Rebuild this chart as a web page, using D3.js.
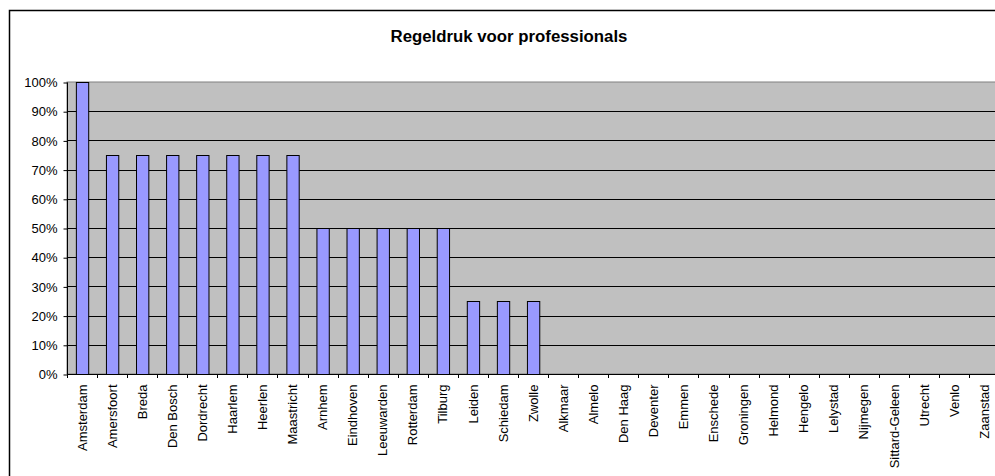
<!DOCTYPE html>
<html>
<head>
<meta charset="utf-8">
<script src="https://cdn.jsdelivr.net/npm/d3@7"></script>
<style>
  html, body { margin: 0; padding: 0; background: #fff; }
  svg { display: block; font-family: "Liberation Sans", Arial, sans-serif; }
</style>
</head>
<body>
<svg id="chart" width="995" height="476"></svg>
<script>
const title = "Regeldruk voor professionals";
const categories = ["Amsterdam","Amersfoort","Breda","Den Bosch","Dordrecht","Haarlem","Heerlen","Maastricht","Arnhem","Eindhoven","Leeuwarden","Rotterdam","Tilburg","Leiden","Schiedam","Zwolle","Alkmaar","Almelo","Den Haag","Deventer","Emmen","Enschede","Groningen","Helmond","Hengelo","Lelystad","Nijmegen","Sittard-Geleen","Utrecht","Venlo","Zaanstad"];
const values = [1.00,0.75,0.75,0.75,0.75,0.75,0.75,0.75,0.50,0.50,0.50,0.50,0.50,0.25,0.25,0.25,0,0,0,0,0,0,0,0,0,0,0,0,0,0,0];
const yTicks = [0,0.1,0.2,0.3,0.4,0.5,0.6,0.7,0.8,0.9,1.0];

const svg = d3.select("#chart");
const plot = { left: 67, right: 999.2, top: 82, bottom: 374 };

// outer chart border
svg.append("rect")
  .attr("x", 9.5).attr("y", 10.5)
  .attr("width", 1100).attr("height", 600)
  .attr("fill", "#fff").attr("stroke", "#000").attr("stroke-width", 1.5);

const x = d3.scaleBand().domain(categories)
  .range([plot.left, plot.right]).paddingInner(0.59).paddingOuter(0.295);
const y = d3.scaleLinear().domain([0, 1]).range([plot.bottom, plot.top]);

// plot area
svg.append("rect")
  .attr("x", plot.left).attr("y", plot.top)
  .attr("width", plot.right - plot.left).attr("height", plot.bottom - plot.top)
  .attr("fill", "#C0C0C0").attr("stroke", "#808080").attr("stroke-width", 1);

// gridlines
svg.append("g").selectAll("line")
  .data(yTicks.filter(t => t > 0 && t < 1))
  .join("line")
  .attr("x1", plot.left).attr("x2", plot.right)
  .attr("y1", d => Math.round(y(d)) + 0.5).attr("y2", d => Math.round(y(d)) + 0.5)
  .attr("stroke", "#000").attr("stroke-width", 1);

// bars
svg.append("g").selectAll("rect")
  .data(categories.map((c, i) => ({ c, v: values[i] })).filter(d => d.v > 0))
  .join("rect")
  .attr("x", d => x(d.c) + 0.5)
  .attr("y", d => Math.round(y(d.v)) + 0.5)
  .attr("width", x.bandwidth())
  .attr("height", d => Math.round(y(0)) - Math.round(y(d.v)))
  .attr("fill", "#9999FF").attr("stroke", "#000").attr("stroke-width", 1);

// y axis
const yAxis = d3.axisLeft(y).tickValues(yTicks).tickFormat(d3.format(".0%"))
  .tickSize(4).tickPadding(6);
const gy = svg.append("g").attr("transform", `translate(${plot.left + 0.5},0.5)`).call(yAxis);
gy.select(".domain").attr("stroke", "#000").attr("d", `M0,${plot.top}V${plot.bottom}`);
gy.selectAll(".tick line").attr("stroke", "#000");
gy.selectAll(".tick text").attr("font-size", 13).attr("fill", "#000")
  .attr("font-family", "'Liberation Sans', Arial, sans-serif");

// x axis
const xAxis = d3.axisBottom(x).tickSize(0).tickSizeOuter(0);
const gx = svg.append("g").attr("transform", `translate(0,${plot.bottom + 0.5})`).call(xAxis);
gx.select(".domain").attr("stroke", "#000").attr("d", `M${plot.left},0H${plot.right}`);
gx.selectAll(".tick text")
  .attr("font-size", 13).attr("fill", "#000")
  .attr("font-family", "'Liberation Sans', Arial, sans-serif")
  .attr("transform", "rotate(-90)")
  .attr("text-anchor", "end")
  .attr("x", -10).attr("y", 0).attr("dy", "0.35em");
// category boundary ticks
const step = x.step();
svg.append("g").selectAll("line")
  .data(d3.range(categories.length + 1))
  .join("line")
  .attr("x1", i => Math.round(plot.left + i * step) + 0.5)
  .attr("x2", i => Math.round(plot.left + i * step) + 0.5)
  .attr("y1", plot.bottom).attr("y2", plot.bottom + 4)
  .attr("stroke", "#000");

// title
svg.append("text")
  .attr("x", 509).attr("y", 42)
  .attr("text-anchor", "middle")
  .attr("font-size", 16.8).attr("font-weight", "bold")
  .attr("fill", "#000")
  .text(title);
</script>
</body>
</html>
